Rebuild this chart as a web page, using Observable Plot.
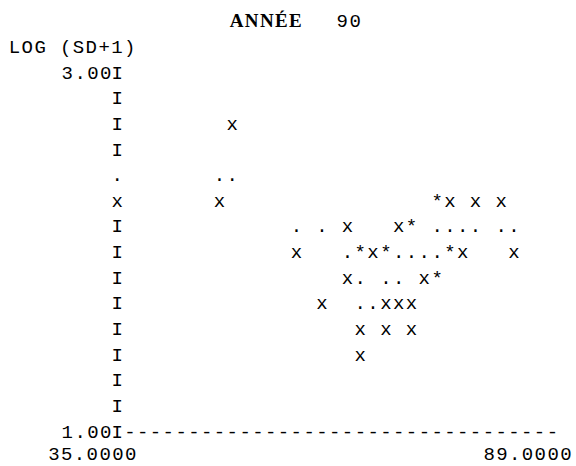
<!DOCTYPE html>
<html><head><meta charset="utf-8">
<script src="https://cdn.jsdelivr.net/npm/d3@7"></script>
<script src="https://cdn.jsdelivr.net/npm/@observablehq/plot@0.6"></script>
<style>body{margin:0;background:#fff}</style>
</head><body><div id="chart"></div>
<script>
// Points (x: 35..89, y: LOG(SD+1) 1..3)
const dotX = [35, 47.71, 49.29, 57.24, 60.41, 74.71, 76.29, 77.88, 79.47, 82.65, 84.24, 63.59, 69.94, 71.53, 73.12, 74.71, 65.18, 68.35, 69.94, 65.18, 66.76];
const dotY = [2.429, 2.429, 2.429, 2.143, 2.143, 2.143, 2.143, 2.143, 2.143, 2.143, 2.143, 2.0, 2.0, 2.0, 2.0, 2.0, 1.857, 1.857, 1.857, 1.714, 1.714];
const crossX = [49.29, 35, 47.71, 76.29, 79.47, 82.65, 63.59, 69.94, 57.24, 66.76, 77.88, 84.24, 63.59, 73.12, 60.41, 68.35, 69.94, 71.53, 65.18, 68.35, 71.53, 65.18];
const crossY = [2.714, 2.286, 2.286, 2.286, 2.286, 2.286, 2.143, 2.143, 2.0, 2.0, 2.0, 2.0, 1.857, 1.857, 1.714, 1.714, 1.714, 1.714, 1.571, 1.571, 1.571, 1.429];
const starX = [74.71, 71.53, 65.18, 68.35, 76.29, 74.71];
const starY = [2.286, 2.143, 2.0, 2.0, 2.0, 1.857];

const yTicks = [3, 1];
const yTickLabels = ["3.00", "1.00"];
const xTicks = [35, 89];
const xTickLabels = ["35.0000", "89.0000"];
const titleWord = "ANNÉE";
const titleYear = "90";
const yLabel = "LOG (SD+1)";
const printerLines = 15;

const mono = "'Liberation Mono', 'DejaVu Sans Mono', monospace";
const fs = 19;

const dots = dotX.map((x, i) => ({x, y: dotY[i]}));
const crosses = crossX.map((x, i) => ({x, y: crossY[i]}));
const stars = starX.map((x, i) => ({x, y: starY[i]}));
const all = [...dots, ...crosses, ...stars];

// printer lines of the vertical axis; a point on the axis column replaces its "I"
const lines = d3.range(printerLines).map(i => 3 - i * 2 / (printerLines - 1));
const axisRows = lines.filter(l => !all.some(p => p.x === xTicks[0] && Math.abs(p.y - l) < 0.01));

const common = {fontFamily: mono, fontSize: fs, fill: "#000", lineAnchor: "middle"};

const plot = Plot.plot({
  width: 576, height: 466,
  marginLeft: 117.3, marginRight: 23.5, marginTop: 72, marginBottom: 35,
  x: {domain: [35, 89], axis: null},
  y: {domain: [1, 3], axis: null},
  style: {background: "#fff", color: "#000", letterSpacing: "1.4px", overflow: "visible"},
  marks: [
    Plot.text(axisRows, {...common, x: () => xTicks[0], y: d => d, text: () => "I"}),
    Plot.text(yTicks, {...common, x: () => xTicks[0], y: d => d, text: (d, i) => yTickLabels[i], textAnchor: "end", dx: -5}),
    Plot.text([yTicks[1]], {...common, x: () => xTicks[0], y: d => d, text: () => "-".repeat(34), textAnchor: "start", dx: 6.4}),
    Plot.text(xTicks, {...common, x: d => d, y: () => yTicks[1], text: (d, i) => xTickLabels[i], textAnchor: "end", dx: 20, dy: 22}),
    Plot.text([yLabel], {...common, frameAnchor: "top-left", text: d => d, textAnchor: "start", dx: -109, dy: -26}),
    Plot.text([titleWord], {fontFamily: "'Liberation Serif', serif", fontWeight: "bold", fontSize: 19, fill: "#000", frameAnchor: "top", lineAnchor: "middle", text: d => d, dx: -69, dy: -52}),
    Plot.text([titleYear], {...common, frameAnchor: "top", text: d => d, dx: 14, dy: -52}),
    Plot.text(dots, {...common, x: "x", y: "y", text: () => "."}),
    Plot.text(crosses, {...common, x: "x", y: "y", text: () => "x"}),
    Plot.text(stars, {...common, x: "x", y: "y", text: () => "*"})
  ]
});
document.getElementById("chart").appendChild(plot);
</script>
</body></html>
